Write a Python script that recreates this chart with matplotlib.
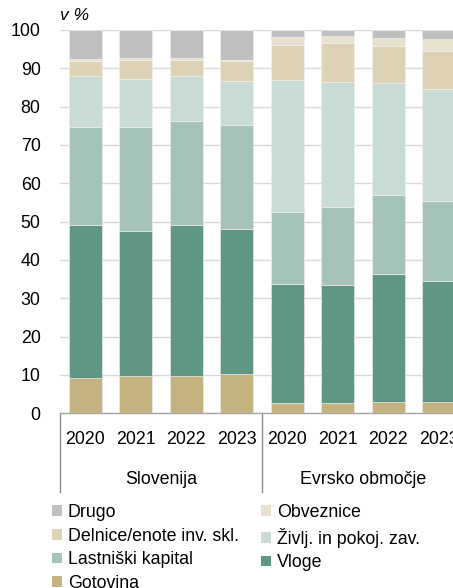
import matplotlib
matplotlib.use("Agg")
import matplotlib.pyplot as plt
from matplotlib.patches import Patch
import numpy as np

plt.rcParams['font.family'] = ['Liberation Sans', 'DejaVu Sans']

years = ['2020', '2021', '2022', '2023', '2020', '2021', '2022', '2023']
groups = ['Slovenija', 'Evrsko območje']

# composition of household financial assets, share in %
gotovina = [9.1, 9.7, 9.7, 10.2, 2.6, 2.6, 3.0, 2.9]
vloge = [40.0, 37.9, 39.4, 37.9, 31.1, 30.9, 33.3, 31.6]
lastniski = [25.7, 27.2, 27.2, 27.1, 18.9, 20.3, 20.7, 20.9]
zivlj = [13.3, 12.5, 11.8, 11.6, 34.4, 32.7, 29.1, 29.1]
delnice = [3.9, 5.0, 4.2, 5.0, 9.2, 10.1, 9.8, 10.1]
obveznice = [0.4, 0.3, 0.3, 0.4, 2.0, 1.9, 2.0, 3.0]
drugo = [7.6, 7.4, 7.4, 7.8, 1.8, 1.5, 2.1, 2.4]

series = [
    ('Gotovina', gotovina, '#c5b281'),
    ('Vloge', vloge, '#5f9684'),
    ('Lastniški kapital', lastniski, '#a6c3b9'),
    ('Življ. in pokoj. zav.', zivlj, '#c8dbd5'),
    ('Delnice/enote inv. skl.', delnice, '#ddd2b4'),
    ('Obveznice', obveznice, '#e8e1cf'),
    ('Drugo', drugo, '#bfbfbf'),
]

FS = 12.8

W, H = 453, 588
fig = plt.figure(figsize=(W / 100, H / 100), dpi=100)
ax = fig.add_axes([60 / W, (H - 413.3) / H, 404 / W, 383.3 / H])

x = np.arange(len(years))
bottom = np.zeros(len(years))
colors = {}
for name, vals, col in series:
    vals = np.array(vals)
    ax.bar(x, vals, width=0.655, bottom=bottom, color=col,
           edgecolor='#f4f1ea', linewidth=0.4, zorder=3)
    bottom += vals
    colors[name] = col

ax.set_xlim(-0.5, 7.5)
ax.set_ylim(0, 100)
ax.set_yticks(np.arange(0, 101, 10))
ax.yaxis.grid(True, color='#d9d9d9', linewidth=1.0, zorder=0)
ax.set_axisbelow(True)
for s in ['top', 'right', 'left']:
    ax.spines[s].set_visible(False)
ax.spines['bottom'].set_color('#a6a6a6')
ax.spines['bottom'].set_linewidth(1.0)
ax.tick_params(axis='y', length=0, pad=14, labelsize=FS, labelcolor='#000000')
ax.set_xticks(x)
ax.set_xticklabels(years)
ax.tick_params(axis='x', length=0, pad=13, labelsize=FS)

# group labels and separators below the axis
trans = ax.get_xaxis_transform()
for i, g in enumerate(groups):
    ax.annotate(g, xy=(1.5 + 4 * i, 0), xycoords=trans,
                xytext=(0, -47.5), textcoords='offset points',
                ha='center', va='center', fontsize=FS)
sep_len = 79 / 383.3
for xs in [-0.5, 3.5]:
    ax.plot([xs, xs], [0, -sep_len], transform=trans, color='#8c8c8c',
            linewidth=1.0, clip_on=False)

fig.text(60 / W, 1 - 15 / H, 'v %', style='italic', fontsize=12.5,
         ha='left', va='center')

# legend in row-major order: Drugo, Obveznice / Delnice, Življ. / Lastniški, Vloge / Gotovina
order = ['Drugo', 'Delnice/enote inv. skl.', 'Lastniški kapital', 'Gotovina',
         'Obveznice', 'Življ. in pokoj. zav.', 'Vloge']
handles = [Patch(facecolor=colors[n], edgecolor='none', label=n) for n in order]
fig.legend(handles=handles, loc='upper left', ncol=2,
           bbox_to_anchor=(52 / W, 1 - 504 / H), frameon=False,
           fontsize=FS, handlelength=0.55, handleheight=0.55,
           handletextpad=0.33, labelspacing=0.37, columnspacing=1.26,
           borderpad=0, borderaxespad=0)

fig.savefig('out.png', dpi=100)
